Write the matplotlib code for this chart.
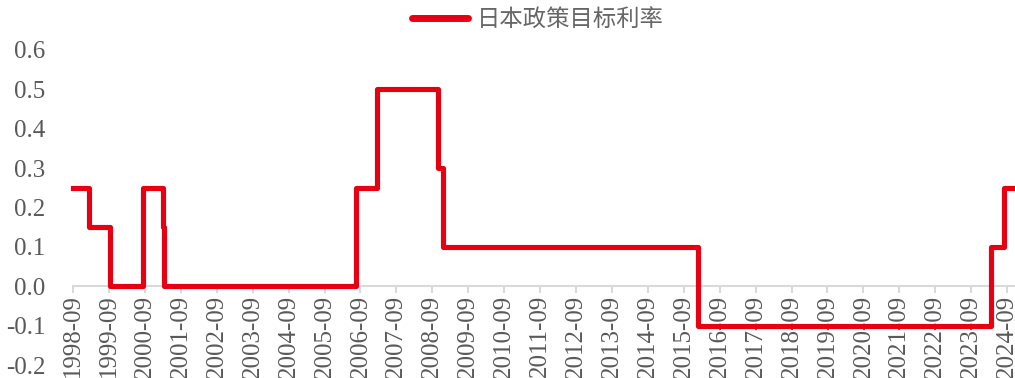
import matplotlib
matplotlib.use("Agg")
import matplotlib.pyplot as plt
import matplotlib.dates as mdates
import datetime as dt

# Policy-rate change dates and the rate in force from each date
change_dates = ["1998-09-01", "1999-02-12", "1999-09-15", "2000-08-11", "2001-02-28",
                "2001-03-19", "2006-07-14", "2007-02-21", "2008-10-31", "2008-12-19",
                "2016-01-29", "2024-03-19", "2024-07-31", "2024-11-20"]
rates = [0.25, 0.15, 0.0, 0.25, 0.15, 0.0, 0.25, 0.5, 0.3, 0.1, -0.1, 0.1, 0.25, 0.25]
series_name = "日本政策目标利率"
tick_years = list(range(1998, 2025))
y_ticks = [-0.2, -0.1, 0.0, 0.1, 0.2, 0.3, 0.4, 0.5, 0.6]

plt.rcParams['axes.unicode_minus'] = False
xnum = [mdates.date2num(dt.datetime.strptime(d, "%Y-%m-%d")) for d in change_dates]

fig = plt.figure(figsize=(10.15, 3.78), dpi=100)
ax = fig.add_axes([73 / 1015, 13 / 378, 1 - 73 / 1015, (365 - 50) / 378])

for s in ["top", "right", "left"]:
    ax.spines[s].set_visible(False)
ax.spines["bottom"].set_position(("data", 0))
ax.spines["bottom"].set_color("#D9D9D9")
ax.spines["bottom"].set_linewidth(1.5)
ax.spines["bottom"].set_zorder(1)

ax.plot(xnum, rates, drawstyle="steps-post", color="#E60012", lw=3.7,
        solid_joinstyle="round", label=series_name, zorder=5, clip_on=False)

ax.set_xlim(xnum[0], xnum[-1])
ax.set_ylim(-0.2, 0.6)

tick_pos = [mdates.date2num(dt.datetime(y, 9, 1)) for y in tick_years]
tick_lab = [f"{y}-09" for y in tick_years]
ax.set_xticks(tick_pos)
ax.set_xticklabels(tick_lab, rotation=90, fontfamily="Liberation Serif", fontsize=18,
                   color="#595959", va="top", ha="center")
ax.set_yticks(y_ticks)
ax.set_yticklabels([f"{v:.1f}" for v in y_ticks], fontfamily="Liberation Serif",
                   fontsize=18, color="#595959")

ax.tick_params(axis="x", direction="out", length=5, width=1.5, color="#D9D9D9", pad=1)
ax.tick_params(axis="y", length=0, pad=20)
ax.grid(False)

leg = fig.legend(loc="center", bbox_to_anchor=(0.530, 0.947), frameon=False,
                 handlelength=2.4, handletextpad=0.35,
                 prop={"family": ["Noto Sans CJK SC", "DejaVu Sans"], "size": 16.8,
                       "weight": "light"})
for t in leg.get_texts():
    t.set_color("#666666")
for l in leg.get_lines():
    l.set_linewidth(5)
    l.set_solid_capstyle("round")

fig.savefig("out.png", dpi=100)
